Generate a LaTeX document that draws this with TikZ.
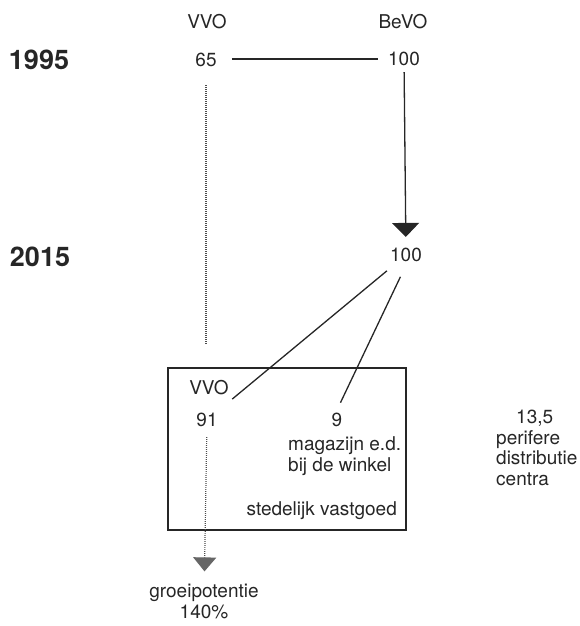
\documentclass[tikz,border=0pt]{standalone}
\usepackage{fontspec}
\setmainfont{TeX Gyre Heros}
\usetikzlibrary{arrows.meta}

\begin{document}
\begin{tikzpicture}[
  x=1pt, y=-1pt,
  font=\fontsize{19}{21}\selectfont,
  lbl/.style={inner sep=3pt, text=black!85},
  yearlbl/.style={inner sep=3pt, font=\fontsize{27}{30}\selectfont\bfseries, text=black!85},
  conn/.style={line width=1.3pt, draw=black!85},
  bigarrow/.style={line width=1.3pt, draw=black!85, -{Triangle[width=27pt, length=14pt]}},
  dots/.style={line width=1.2pt, draw=black!70, dash pattern=on 0.8pt off 1.2pt},
  frame/.style={draw=black!85, line width=1.3pt, minimum width=238pt, minimum height=162pt}
]
\useasboundingbox (0,0) rectangle (579,626);

% =========================
% Years and columns
% =========================
\node[yearlbl] (y1995) at (39,60) {1995};
\node[yearlbl] (y2015) at (40,257) {2015};

\node[lbl] (vvotop) at (207,22) {VVO};
\node[lbl] (bevotop) at (403,22) {BeVO};

% 1995 row
\node[lbl] (vvo95) at (206,60) {65};
\node[lbl] (bevo95) at (404,59) {100};
\draw[conn, shorten <=12pt, shorten >=7pt] (vvo95.east |- 0,59) -- (bevo95.west);

% 2015 row
\node[lbl] (bevo15) at (406,255) {100};
\draw[bigarrow, shorten <=3pt, shorten >=8pt] (bevo95) -- (bevo15);

% =========================
% Urban real estate box
% =========================
\node[frame] (box) at (287,449) {};
\node[lbl] (vvoin) at (209,388) {VVO};
\node[lbl] (vvo15) at (207,420) {91};
\node[lbl] (mag15) at (337,420) {9};
\node[lbl, align=left, anchor=north west] (magtxt) at (285,433) {magazijn e.d.\\bij de winkel};
\node[lbl, anchor=east] (stedelijk) at (400,511) {stedelijk vastgoed};

\draw[conn, shorten <=9pt, shorten >=17pt] (bevo15) -- (vvo15);
\draw[conn, shorten <=13pt, shorten >=8pt] (bevo15.south) -- (mag15.north);

% peripheral centres
\node[lbl, align=left, anchor=north west, font=\fontsize{19}{20.5}\selectfont] (perif) at (493,407) {\hspace*{20pt}13,5\\perifere\\distributie\\centra};

% =========================
% Growth (dotted)
% =========================
\coordinate (dotend) at (206,345);
\draw[dots, shorten <=15pt] (vvo95) -- (dotend);

\node[lbl, align=center] (groei) at (204,601) {groeipotentie\\140\%};
\draw[dots, shorten <=7pt, shorten >=9pt,
  -{Triangle[width=23pt, length=14pt, color=black!60, fill=black!60]}]
  (vvo15) -- (groei);

\end{tikzpicture}
\end{document}
